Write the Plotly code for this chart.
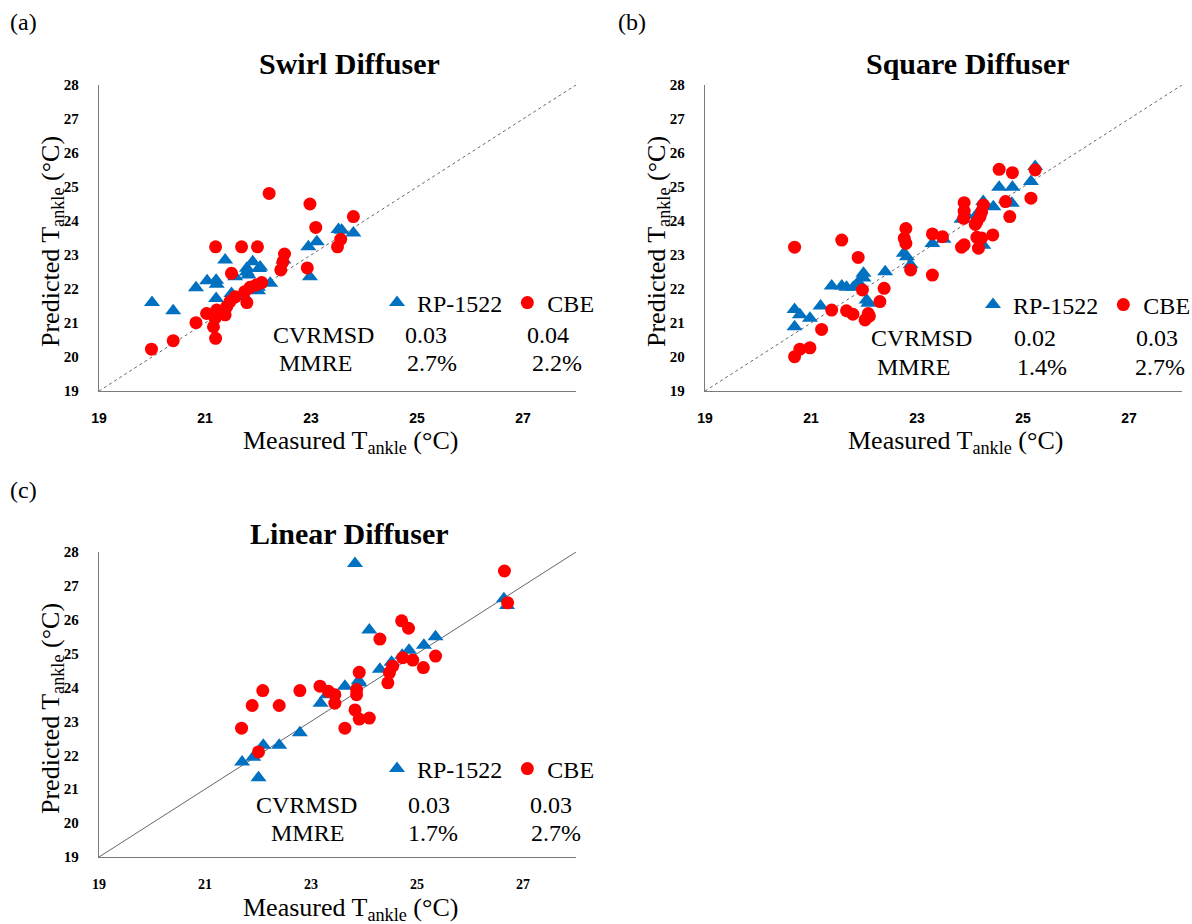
import plotly.graph_objects as go

# ---------------- data ----------------
diag = [19, 28]
x_ticks = [19, 21, 23, 25, 27]
y_ticks = [19, 20, 21, 22, 23, 24, 25, 26, 27, 28]

titles = ["Swirl Diffuser", "Square Diffuser", "Linear Diffuser"]
panel_tags = ["(a)", "(b)", "(c)"]
series_names = ["RP-1522", "CBE"]
metric_names = ["CVRMSD", "MMRE"]
swirl_stats_rp = ["0.03", "2.7%"]
swirl_stats_cbe = ["0.04", "2.2%"]
square_stats_rp = ["0.02", "1.4%"]
square_stats_cbe = ["0.03", "2.7%"]
linear_stats_rp = ["0.03", "1.7%"]
linear_stats_cbe = ["0.03", "2.7%"]

swirl_rp_x = [20.0, 20.4, 20.83, 21.04, 21.21, 21.22, 21.38, 21.21, 21.5, 21.57, 21.79, 21.9,
              22.04, 21.82, 22.0, 22.23, 22.48, 22.95, 23.11, 23.52, 23.58, 23.8, 22.98, 21.75,
              22.02, 21.79, 22.0]
swirl_rp_y = [21.6, 21.36, 22.04, 22.24, 22.26, 22.14, 22.85, 21.72, 21.87, 22.36, 22.61, 22.8,
              22.65, 22.41, 22.05, 22.17, 22.85, 23.24, 23.39, 23.75, 23.73, 23.65, 22.36, 21.77,
              22.6, 22.5, 21.95]
swirl_cbe_x = [22.21, 22.98, 23.8, 23.09, 21.2, 21.69, 21.99, 22.5, 22.47, 22.43, 23.56, 23.5,
               22.93, 21.5, 22.07, 21.97, 21.85, 21.75, 21.79, 21.57, 21.47, 21.41, 21.22, 21.03,
               21.38, 21.19, 21.16, 21.2, 20.83, 20.4, 19.99]
swirl_cbe_y = [24.81, 24.5, 24.13, 23.81, 23.24, 23.24, 23.24, 23.03, 22.8, 22.56, 23.46, 23.24,
               22.62, 22.46, 22.19, 22.12, 22.05, 21.92, 21.6, 21.77, 21.63, 21.48, 21.38, 21.28,
               21.24, 21.14, 20.89, 20.55, 21.01, 20.48, 20.23]

square_rp_x = [20.69, 20.79, 20.69, 20.98, 21.18, 21.39, 21.58, 21.67, 21.8, 21.89, 21.99, 21.99,
               22.05, 22.08, 22.40, 22.75, 22.81, 22.88, 23.29, 23.5, 23.84, 23.93, 24.13, 24.25,
               24.25, 24.44, 24.55, 24.8, 24.79, 25.15, 25.23]
square_rp_y = [21.4, 21.24, 20.89, 21.14, 21.5, 22.09, 22.09, 22.05, 22.05, 22.2, 22.46, 22.32,
               21.68, 21.58, 22.51, 23.05, 22.95, 22.71, 23.34, 23.46, 24.05, 24.17, 24.2, 24.57,
               23.29, 24.42, 24.99, 24.99, 24.52, 25.16, 25.6]
square_cbe_x = [20.69, 21.58, 21.89, 21.97, 22.38, 22.30, 22.08, 22.02, 22.1, 21.79, 21.67, 21.39,
                21.20, 20.98, 20.79, 20.69, 22.79, 22.76, 22.79, 22.88, 23.29, 23.29, 23.48, 23.89,
                23.89, 23.88, 23.84, 23.89, 24.25, 24.22, 24.19, 24.13, 24.1, 24.13, 24.22, 24.16,
                24.43, 24.67, 24.75, 24.55, 24.80, 25.23, 25.15]
square_cbe_y = [23.23, 23.44, 22.93, 21.97, 22.02, 21.63, 21.28, 21.09, 21.2, 21.26, 21.36, 21.38,
                20.81, 20.27, 20.23, 20.01, 23.78, 23.49, 23.34, 22.56, 22.41, 23.62, 23.54, 24.54,
                24.29, 24.08, 23.23, 23.3, 24.47, 24.27, 24.13, 23.98, 23.9, 23.52, 23.5, 23.2,
                23.59, 24.57, 24.13, 25.52, 25.42, 25.5, 24.67]

linear_rp_x = [23.83, 24.1, 24.3, 23.91, 23.9, 23.64, 23.3, 23.18, 22.79, 22.4, 22.1, 21.91,
               21.7, 22.01, 26.64, 26.7, 25.35, 25.13, 24.85, 24.72, 24.52]
linear_rp_y = [27.66, 25.7, 24.54, 24.14, 24.2, 24.04, 23.79, 23.54, 22.67, 22.3, 22.3, 21.94,
               21.8, 21.34, 26.62, 26.42, 25.5, 25.25, 25.1, 24.95, 24.75]
linear_cbe_x = [21.69, 21.89, 22.09, 22.4, 22.79, 23.17, 23.33, 23.45, 23.45, 23.86, 23.86, 23.91,
                23.83, 23.91, 24.1, 23.64, 22.01, 24.3, 26.65, 26.71, 24.71, 24.84, 25.35, 25.12,
                24.92, 24.73, 24.54, 24.48, 24.45]
linear_cbe_y = [22.8, 23.47, 23.91, 23.47, 23.91, 24.04, 23.89, 23.79, 23.54, 23.94, 23.79, 24.45,
                23.34, 23.07, 23.1, 22.8, 22.1, 25.43, 27.44, 26.5, 25.97, 25.75, 24.93, 24.59,
                24.81, 24.88, 24.63, 24.44, 24.14]

# ---------------- style ----------------
W, H = 1192, 924
BLUE = "#0070C0"
RED = "#FF0000"
SERIF = "Liberation Serif, Times New Roman, serif"
SANS = "Liberation Sans, Arial, sans-serif"


def fx(p):
    return p / W


def fy(p):
    return 1 - p / H


fig = go.Figure()

panels = [
    dict(xa="x", ya="y", leg="legend",
         rp=(swirl_rp_x, swirl_rp_y), cbe=(swirl_cbe_x, swirl_cbe_y),
         diag_dash="dot"),
    dict(xa="x2", ya="y2", leg="legend2",
         rp=(square_rp_x, square_rp_y), cbe=(square_cbe_x, square_cbe_y),
         diag_dash="dot"),
    dict(xa="x3", ya="y3", leg="legend3",
         rp=(linear_rp_x, linear_rp_y), cbe=(linear_cbe_x, linear_cbe_y),
         diag_dash="solid"),
]

for p in panels:
    fig.add_trace(go.Scatter(x=diag, y=diag, mode="lines", xaxis=p["xa"], yaxis=p["ya"],
                             line=dict(color="#555555", width=0.9, dash=p["diag_dash"]),
                             showlegend=False, hoverinfo="skip"))
    fig.add_trace(go.Scatter(x=p["rp"][0], y=p["rp"][1], mode="markers", name=series_names[0],
                             xaxis=p["xa"], yaxis=p["ya"], legend=p["leg"],
                             marker=dict(symbol="triangle-up", size=14, color=BLUE)))
    fig.add_trace(go.Scatter(x=p["cbe"][0], y=p["cbe"][1], mode="markers", name=series_names[1],
                             xaxis=p["xa"], yaxis=p["ya"], legend=p["leg"],
                             marker=dict(symbol="circle", size=13, color=RED)))

# axes geometry (pixels)
geo = [
    dict(x0=99, x1=576, y0=85, y1=391),
    dict(x0=705, x1=1182, y0=85, y1=391),
    dict(x0=99, x1=576, y0=552, y1=857),
]
xtick_fonts = [SANS, SANS, SERIF]

layout = dict(width=W, height=H, margin=dict(l=0, r=0, t=0, b=0, autoexpand=False),
              paper_bgcolor="white", plot_bgcolor="white", showlegend=True)

for i, g in enumerate(geo):
    sfx = "" if i == 0 else str(i + 1)
    layout["xaxis" + sfx] = dict(
        domain=[fx(g["x0"]), fx(g["x1"])], range=[19, 28], anchor="y" + sfx,
        tickvals=x_ticks, ticktext=[str(v) for v in x_ticks],
        showgrid=False, zeroline=False, showline=True, linecolor="#7a7a7a", linewidth=1.3,
        ticks="", ticklabelstandoff=14, automargin=False,
        tickfont=dict(family=xtick_fonts[i], size=14, color="black", weight="bold"))
    layout["yaxis" + sfx] = dict(
        domain=[fy(g["y1"]), fy(g["y0"])], range=[19, 28], anchor="x" + sfx,
        tickvals=y_ticks, ticktext=[str(v) for v in y_ticks],
        showgrid=False, zeroline=False, showline=True, linecolor="#7a7a7a", linewidth=1.3,
        ticks="", ticklabelstandoff=16, automargin=False,
        tickfont=dict(family=SERIF, size=15, color="black", weight="bold"))

leg_pos = [(377, 303), (973, 305), (377, 769)]
for i, (lx, ly) in enumerate(leg_pos):
    key = "legend" if i == 0 else "legend" + str(i + 1)
    layout[key] = dict(x=fx(lx), y=fy(ly), xanchor="left", yanchor="middle",
                       orientation="h", bgcolor="rgba(0,0,0,0)",
                       font=dict(family=SERIF, size=24, color="black"),
                       itemclick=False, itemdoubleclick=False)

fig.update_layout(**layout)

ann = []


def txt(x, y, s, size=24, bold=False, angle=0, xanchor="center", yanchor="middle"):
    ann.append(dict(x=fx(x), y=fy(y), xref="paper", yref="paper", text=s, showarrow=False,
                    textangle=angle, xanchor=xanchor, yanchor=yanchor,
                    font=dict(family=SERIF, size=size, color="black",
                              weight="bold" if bold else "normal")))


# panel tags
txt(8, 22, panel_tags[0], size=24, xanchor="left")
txt(616, 22, panel_tags[1], size=24, xanchor="left")
txt(8, 490, panel_tags[2], size=24, xanchor="left")

# titles
txt(349, 64, titles[0], size=30, bold=True)
txt(968, 64, titles[1], size=30, bold=True)
txt(349, 533, titles[2], size=30, bold=True)

xlab = "Measured T<sub>ankle</sub> (°C)"
ylab = "Predicted T<sub>ankle</sub> (°C)"
txt(350, 424, xlab, size=26, yanchor="top")
txt(955, 424, xlab, size=26, yanchor="top")
txt(350, 891, xlab, size=26, yanchor="top")
txt(34, 242, ylab, size=26, angle=-90, xanchor="left")
txt(640, 242, ylab, size=26, angle=-90, xanchor="left")
txt(34, 709, ylab, size=26, angle=-90, xanchor="left")

# stats tables
stats = [
    dict(name_x=(323, 315), rp_x=(426, 432), cbe_x=(548, 557), ys=(335, 363),
         rp=swirl_stats_rp, cbe=swirl_stats_cbe),
    dict(name_x=(921, 913), rp_x=(1035, 1042), cbe_x=(1157, 1160), ys=(338, 367),
         rp=square_stats_rp, cbe=square_stats_cbe),
    dict(name_x=(306, 307), rp_x=(429, 433), cbe_x=(551, 556), ys=(805, 833),
         rp=linear_stats_rp, cbe=linear_stats_cbe),
]
for s in stats:
    for r in range(2):
        txt(s["name_x"][r], s["ys"][r], metric_names[r])
        txt(s["rp_x"][r], s["ys"][r], s["rp"][r])
        txt(s["cbe_x"][r], s["ys"][r], s["cbe"][r])

fig.update_layout(annotations=ann)
fig.write_html(
    "out.html",
    config={"displayModeBar": False, "responsive": False},
    post_script="document.body.style.margin='0';document.body.style.padding='0';"
                "document.documentElement.style.overflow='hidden';",
)
